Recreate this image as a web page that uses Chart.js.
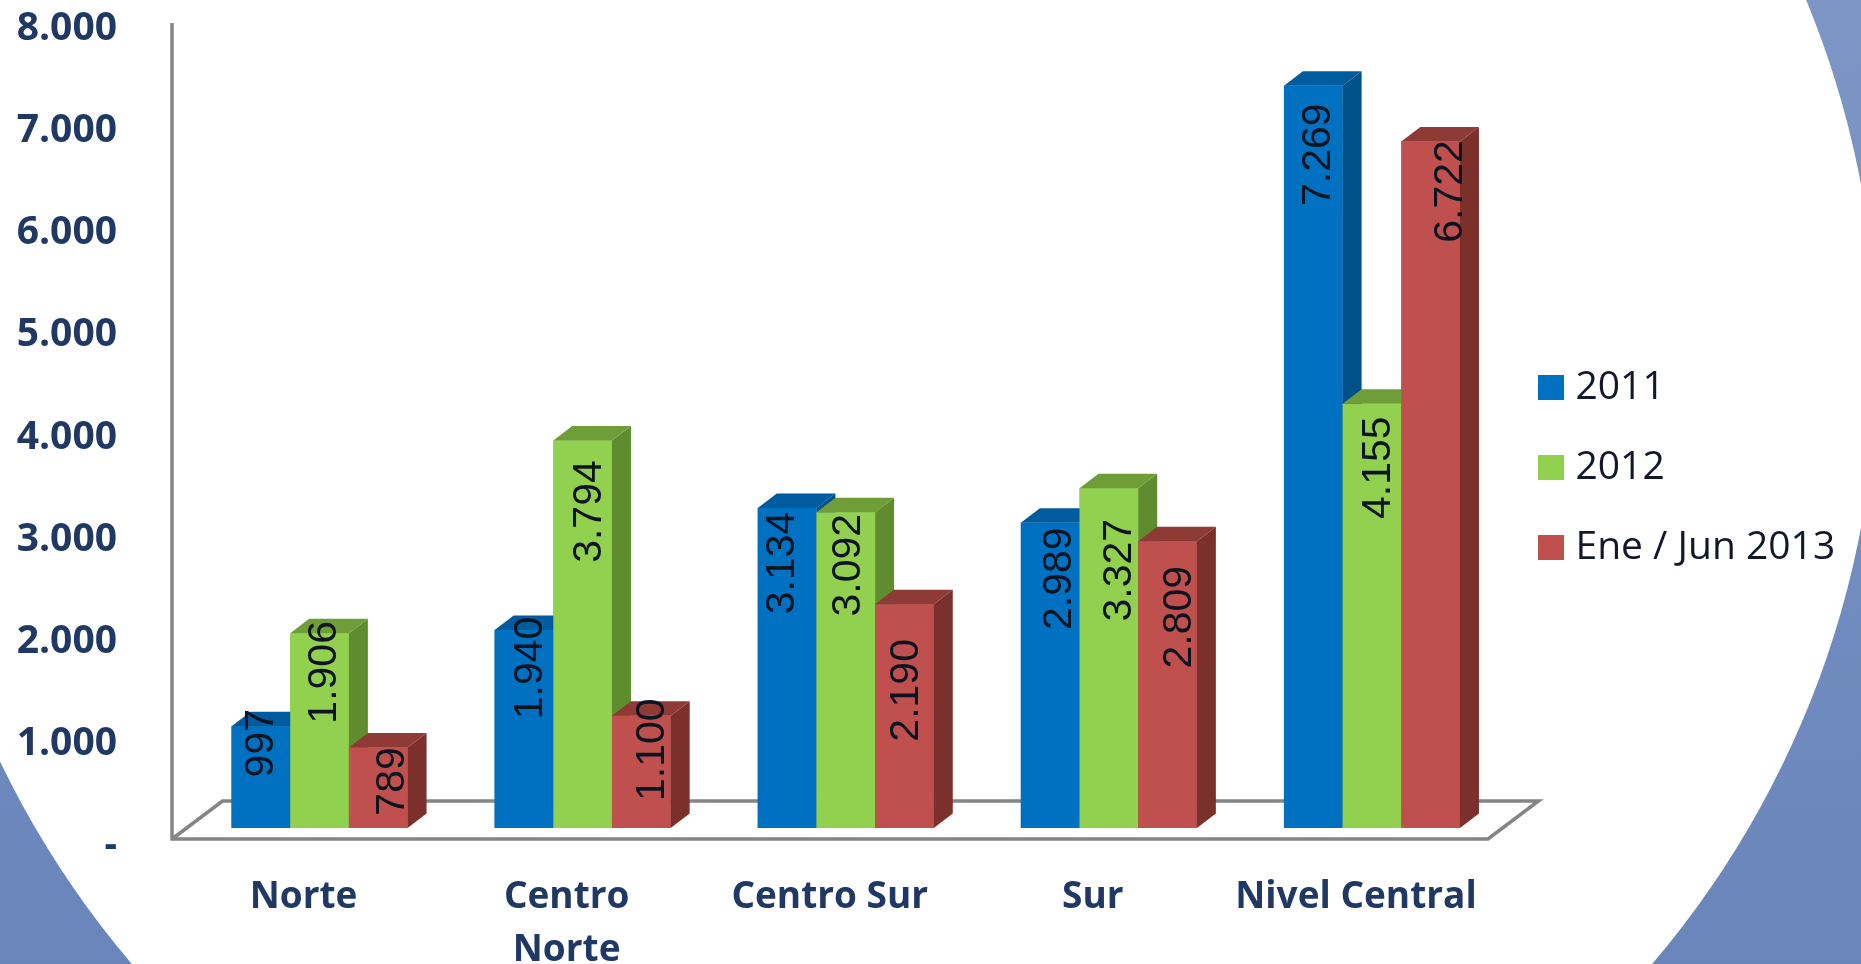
<!DOCTYPE html>
<html lang="es">
<head>
<meta charset="utf-8">
<title>Chart</title>
<style>html,body{margin:0;padding:0;background:#fff}canvas{display:block}</style>
<script src="https://cdn.jsdelivr.net/npm/chart.js@4"></script>
</head>
<body>
<canvas id="c" width="1861" height="964"></canvas>
<script>
const categories = ["Norte", ["Centro", "Norte"], "Centro Sur", "Sur", "Nivel Central"];
const series2011 = [997, 1940, 3134, 2989, 7269];
const series2012 = [1906, 3794, 3092, 3327, 4155];
const series2013 = [789, 1100, 2190, 2809, 6722];
const seriesNames = ["2011", "2012", "Ene / Jun 2013"];
const yTickValues = [0, 1000, 2000, 3000, 4000, 5000, 6000, 7000, 8000];

const frontColors = ["#0070C0", "#92D050", "#C0504D"];
const sideColors = ["#00508A", "#5F8C2E", "#7B302C"];
const topColors = ["#005C9E", "#6F9E38", "#8E3B37"];
const labelDx = [[1, 7, -4, 10, 5], [5.5, 7.5, 2.5, 10.5, 6.5], [14, 11, 2, 12, 20]];
const labelDy = [[17, 38, 55, 56, 69], [39, 71, 53, 82, 64], [34, 34, 86, 76, 50]];
const DEPTH_X = 19, DEPTH_Y = 14.5;
const NAVY = "#1F3864";

const fmt = v => v === 0 ? "-" : String(v).replace(/\B(?=(\d{3})+$)/g, ".");

const backdrop = {
  id: "backdrop",
  beforeDraw(chart) {
    const c = chart.ctx;
    const g = c.createLinearGradient(0, 0, 0, 964);
    g.addColorStop(0, "#7D96C6");
    g.addColorStop(1, "#6985BA");
    c.save();
    c.fillStyle = g;
    c.fillRect(0, 0, 1861, 964);
    c.fillStyle = "#FFFFFF";
    c.beginPath();
    c.ellipse(892, 356, 985, 956, 0, 0, Math.PI * 2);
    c.fill();
    c.restore();
  }
};

const legendPlace = {
  id: "legendPlace",
  afterLayout(chart) {
    const l = chart.legend;
    l.left = 1505; l.right = 1861; l.top = 327; l.bottom = 964;
  }
};

const walls = {
  id: "walls",
  beforeDatasetsDraw(chart) {
    const c = chart.ctx, a = chart.chartArea;
    const fx0 = a.left - 16, fx1 = a.right - 15.5, fy = a.bottom + 11;
    const dx = 50.5, dy = 38;
    c.save();
    c.strokeStyle = "#858585";
    c.lineWidth = 3.5;
    c.beginPath();
    c.moveTo(fx0, a.top + 12);
    c.lineTo(fx0, fy);
    c.lineTo(fx1, fy);
    c.lineTo(fx1 + dx, fy - dy);
    c.lineTo(fx0 + dx, fy - dy);
    c.lineTo(fx0, fy);
    c.stroke();
    c.restore();
  }
};

// Chart.js paints datasets last-to-first; the 3D look needs first-to-last,
// so each series' library bar elements are painted again here with their faces.
const depth = {
  id: "depth",
  afterDatasetsDraw(chart) {
    const c = chart.ctx;
    chart.data.datasets.forEach((ds, i) => {
      const bars = chart.getDatasetMeta(i).data;
      bars.forEach(b => b.draw(c));
      c.save();
      bars.forEach(b => {
        const l = b.x - b.width / 2, r = b.x + b.width / 2;
        c.fillStyle = sideColors[i];
        c.beginPath();
        c.moveTo(r, b.y);
        c.lineTo(r + DEPTH_X, b.y - DEPTH_Y);
        c.lineTo(r + DEPTH_X, b.base - DEPTH_Y);
        c.lineTo(r, b.base);
        c.closePath();
        c.fill();
        c.fillStyle = topColors[i];
        c.beginPath();
        c.moveTo(l, b.y);
        c.lineTo(l + DEPTH_X, b.y - DEPTH_Y);
        c.lineTo(r + DEPTH_X, b.y - DEPTH_Y);
        c.lineTo(r, b.y);
        c.closePath();
        c.fill();
      });
      c.restore();
    });
  }
};

const valueLabels = {
  id: "valueLabels",
  afterDatasetsDraw(chart) {
    const c = chart.ctx;
    c.save();
    c.font = '41px "Liberation Sans"';
    c.fillStyle = "#0B1420";
    c.textAlign = "center";
    c.textBaseline = "middle";
    chart.data.datasets.forEach((ds, i) => {
      chart.getDatasetMeta(i).data.forEach((b, j) => {
        c.save();
        c.translate(b.x + labelDx[i][j], b.y + labelDy[i][j]);
        c.rotate(-Math.PI / 2);
        c.fillText(fmt(ds.data[j]), 0, 0);
        c.restore();
      });
    });
    c.restore();
  }
};

new Chart(document.getElementById("c"), {
  type: "bar",
  data: {
    labels: categories,
    datasets: [series2011, series2012, series2013].map((d, i) => ({
      label: seriesNames[i],
      data: d,
      backgroundColor: frontColors[i],
      borderWidth: 0,
      barPercentage: 1,
      categoryPercentage: 0.669
    }))
  },
  options: {
    responsive: false,
    animation: false,
    layout: { padding: { top: 11, bottom: 0, left: 0, right: 257.5 } },
    plugins: {
      tooltip: { enabled: false },
      legend: {
        position: "right",
        align: "start",
        maxWidth: 100,
        labels: {
          boxWidth: 10,
          boxHeight: 9,
          padding: 41,
          color: "#10182A",
          font: { family: '"Open Sans"', size: 39 },
          generateLabels(chart) {
            return Chart.defaults.plugins.legend.labels.generateLabels(chart).map((it, i) => ({
              ...it, fillStyle: frontColors[i], strokeStyle: frontColors[i], lineWidth: 16
            }));
          }
        }
      }
    },
    scales: {
      x: {
        grid: { display: false, drawTicks: false },
        border: { display: false },
        afterFit(s) { s.height = 136; },
        ticks: {
          color: NAVY,
          font: { family: '"Open Sans"', size: 37, weight: "bold", lineHeight: 1.44 },
          autoSkip: false,
          maxRotation: 0,
          padding: 43,
          labelOffset: -16
        }
      },
      y: {
        min: 0,
        max: 8000,
        grid: { display: false, drawTicks: false },
        border: { display: false },
        afterFit(s) { s.width = 188; s.paddingTop = 0; s.paddingBottom = 0; },
        afterBuildTicks(s) { s.ticks = yTickValues.map(v => ({ value: v })); },
        ticks: {
          color: NAVY,
          font: { family: '"Open Sans"', size: 39, weight: "bold" },
          padding: 71,
          labelOffset: 18,
          callback: v => fmt(v)
        }
      }
    }
  },
  plugins: [backdrop, legendPlace, walls, depth, valueLabels]
});
</script>
</body>
</html>
